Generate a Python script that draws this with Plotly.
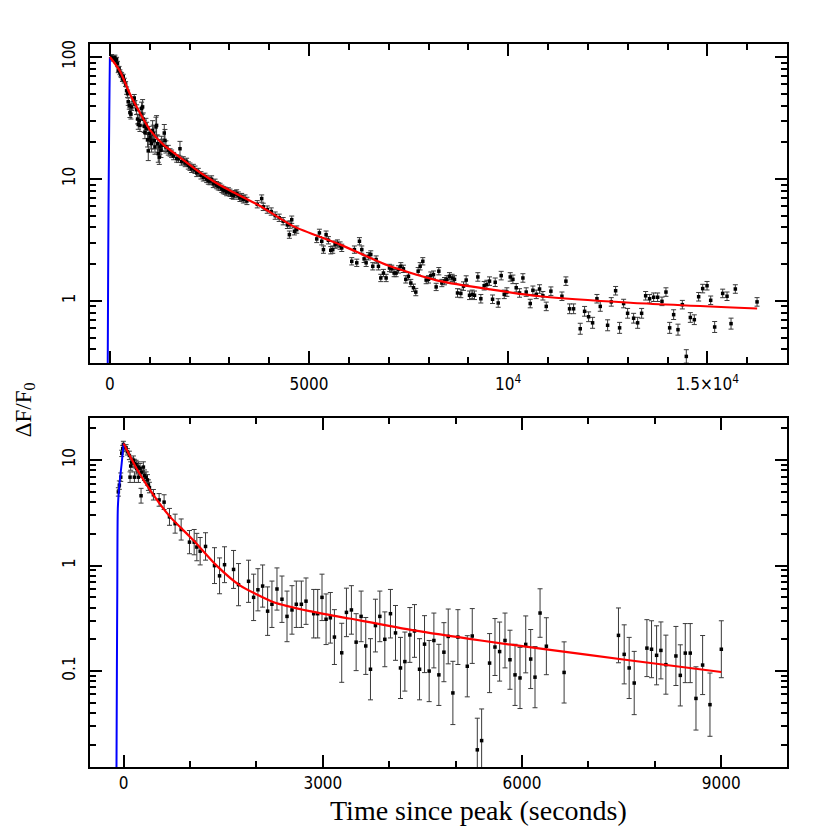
import numpy as np
import plotly.graph_objects as go

# ---- upper panel: observed light curve (time s, dF/F0, half-width of error in dex)
top_t = [42, 84, 126, 142, 167, 190, 209, 230, 251, 270, 293, 315, 335, 360, 394, 419, 444, 460, 486,
         502, 528, 544, 586, 611, 628, 670, 695, 712, 737, 754, 779, 796, 821, 837, 862, 879, 904,
         921, 946, 963, 988, 1005, 1030, 1047, 1072, 1089, 1114, 1131, 1156, 1172, 1198, 1214, 1240,
         1256, 1281, 1298, 1323, 1365, 1382, 1407, 1466, 1510, 1549, 1600, 1675, 1720, 1759, 1800,
         1842, 1890, 1926, 1968, 2010, 2052, 2095, 2136, 2180, 2220, 2286, 2345, 2387, 2429, 2471,
         2512, 2554, 2596, 2640, 2680, 2720, 2764, 2810, 2847, 2890, 2931, 2975, 3015, 3060, 3099,
         3140, 3182, 3224, 3265, 3308, 3350, 3392, 3440, 3700, 3811, 3850, 3950, 4050, 4150, 4250,
         4350, 4456, 4506, 4523, 4565, 4632, 4691,
         5193, 5260, 5319, 5361, 5428, 5486, 5545, 5595, 5654, 5712, 5779, 5821, 6072, 6139, 6198,
         6265, 6324, 6382, 6433, 6491, 6550, 6600, 6684, 6742, 6801, 6868, 6935, 7019, 7077, 7136,
         7186, 7245, 7304, 7370, 7429, 7496, 7555, 7622, 7680, 7739, 7789, 7856, 7940, 7999, 8057,
         8124, 8191, 8258, 8334, 8401, 8460, 8526, 8593, 8652, 8727, 8811, 8878, 8945, 9029, 9096,
         9154, 9238, 9313, 9397, 9464, 9531, 9607, 9674, 9749, 9824, 9900, 9967, 10051, 10118,
         10201, 10285, 10369, 10452,
         10553, 10620, 10704, 10787, 10871, 10955, 11072, 11349, 11449, 11541, 11642, 11809, 11918,
         12019, 12119, 12228, 12312, 12496, 12588, 12697, 12797, 12898, 12998, 13149, 13250, 13350,
         13451, 13551, 13652, 13752, 13861, 13961, 14054, 14154, 14263, 14372, 14472, 14573, 14673,
         14782, 14883, 14992, 15084, 15184, 15385, 15494, 15595, 15703, 16248]
top_f = [100, 97, 99, 94, 95, 88, 78, 80, 75, 72, 71, 66, 69, 64, 60, 53, 50, 43, 40,
         35, 34, 39, 44, 46, 41, 37, 31, 28, 30, 27.5, 34, 38, 39, 31, 27, 24, 28,
         26, 21, 17, 23.5, 22, 20.7, 19.5, 25, 23.5, 20.7, 18.3, 26.7, 27.5, 19.5, 16.1, 15.1,
         18.3, 17.2, 19.5, 18.9, 23.8, 20.7, 18.3, 17.2, 16.5, 16.1, 15.4, 14.7, 14.6, 17.7, 13.9,
         14.2, 13.5, 13.8, 12.9, 12.6, 12.1, 12.3, 11.9, 11.2, 11.4, 10.7, 10.3, 10.4, 10.0, 9.7,
         9.6, 9.9, 9.1, 9.3, 8.9, 8.7, 8.6, 8.3, 8.1, 8.0, 7.8, 7.9, 7.7, 7.4, 7.3,
         7.5, 7.6, 7.3, 7.0, 7.1, 6.8, 6.9, 6.6, 6.2, 6.9, 5.9, 5.6, 5.4, 5.0, 4.8,
         4.5, 4.2, 3.49, 4.22, 4.63, 3.72, 3.84,
         3.22, 3.61, 3.08, 2.63, 3.49, 3.14, 2.60, 2.63, 2.89, 2.95, 2.84, 2.72, 2.11, 2.63, 2.05,
         3.08, 2.63, 2.21, 2.05, 2.32, 2.40, 1.92, 2.18, 1.92, 1.54, 1.69, 1.54, 1.86, 1.83, 1.69,
         1.69, 1.81, 1.92, 1.83, 1.50, 1.59, 1.40, 1.28, 1.18, 1.75, 1.92, 2.11, 1.48, 1.50, 1.61,
         1.64, 1.30, 1.75, 1.40, 1.45, 1.50, 1.59, 1.54, 1.50, 1.16, 1.15, 1.32, 1.48, 1.11, 1.13,
         1.11, 1.57, 1.04, 1.33, 1.36, 1.45, 1.03, 1.42, 0.96, 1.61, 1.13, 1.18, 1.57, 1.50,
         1.28, 1.16, 1.54, 1.18,
         0.95, 1.22, 1.13, 1.25, 1.10, 0.90, 1.20, 1.09, 1.45, 0.86, 0.86, 0.59, 0.82,
         0.74, 0.66, 1.04, 0.90, 0.63, 0.98, 1.21, 0.60, 0.95, 0.79, 0.72, 0.66, 0.79,
         1.10, 1.04, 1.07, 1.07, 0.99, 1.18, 0.60, 0.77, 0.58, 0.93, 0.35, 0.73, 0.70,
         1.08, 1.26, 1.33, 1.01, 0.61, 1.15, 1.09, 0.65, 1.25, 0.98]
top_dex = [0.02, 0.02, 0.02, 0.02, 0.02, 0.02, 0.02, 0.02, 0.02, 0.02, 0.02, 0.02, 0.02, 0.02, 0.02, 0.03, 0.03, 0.03, 0.03,
           0.04, 0.04, 0.03, 0.03, 0.03, 0.03, 0.04, 0.04, 0.04, 0.04, 0.05, 0.05, 0.05, 0.06, 0.05, 0.05, 0.05, 0.05,
           0.05, 0.06, 0.08, 0.06, 0.06, 0.07, 0.07, 0.08, 0.07, 0.07, 0.06, 0.08, 0.08, 0.07, 0.07, 0.06,
           0.06, 0.06, 0.06, 0.05, 0.07, 0.09, 0.05, 0.04, 0.03, 0.03, 0.03, 0.03, 0.03, 0.06, 0.03,
           0.03, 0.03, 0.03, 0.03, 0.03, 0.03, 0.03, 0.03, 0.03, 0.03, 0.03, 0.03, 0.03, 0.03, 0.03,
           0.03, 0.03, 0.03, 0.03, 0.03, 0.03, 0.03, 0.03, 0.03, 0.03, 0.03, 0.03, 0.03, 0.03, 0.03,
           0.03, 0.03, 0.03, 0.03, 0.03, 0.03, 0.03, 0.03, 0.03, 0.03, 0.03, 0.03, 0.03, 0.03, 0.03,
           0.03, 0.03, 0.03, 0.03, 0.03, 0.03, 0.03,
           0.03, 0.03, 0.03, 0.03, 0.03, 0.03, 0.03, 0.03, 0.03, 0.03, 0.03, 0.03, 0.03, 0.03, 0.03,
           0.03, 0.03, 0.03, 0.03, 0.03, 0.03, 0.03, 0.03, 0.03, 0.03, 0.03, 0.03, 0.03, 0.03, 0.03,
           0.03, 0.03, 0.03, 0.03, 0.03, 0.03, 0.03, 0.03, 0.03, 0.03, 0.03, 0.03, 0.03, 0.03, 0.03,
           0.03, 0.03, 0.03, 0.03, 0.03, 0.03, 0.03, 0.03, 0.03, 0.035, 0.035, 0.035, 0.035, 0.035, 0.035,
           0.035, 0.035, 0.035, 0.035, 0.035, 0.035, 0.035, 0.035, 0.035, 0.035, 0.035, 0.035, 0.035, 0.035,
           0.035, 0.035, 0.035, 0.035,
           0.035, 0.035, 0.035, 0.035, 0.035, 0.035, 0.035, 0.035, 0.035, 0.04, 0.04, 0.045, 0.04,
           0.04, 0.045, 0.035, 0.04, 0.045, 0.035, 0.035, 0.045, 0.035, 0.04, 0.04, 0.045, 0.04,
           0.035, 0.035, 0.035, 0.035, 0.035, 0.035, 0.045, 0.04, 0.045, 0.035, 0.055, 0.04, 0.04,
           0.035, 0.035, 0.035, 0.035, 0.045, 0.035, 0.035, 0.045, 0.035, 0.035]

# upper panel model curves
top_rise_t = [-55, -45, -35, -22, -10, 0]
top_rise_f = [0.3, 1.5, 6, 20, 55, 100]
top_fit_t = [0, 250, 500, 750, 1000, 1340, 1760, 2260, 2640, 2930, 3770, 4600, 5780, 7035, 8290,
             9550, 10800, 13065, 16250]
top_fit_f = [100, 77, 50, 35, 25.4, 19.1, 15.0, 11.3, 9.4, 8.3, 6.0, 4.1, 2.89, 1.92, 1.45,
             1.24, 1.09, 0.964, 0.865]

# ---- lower panel
bot_t = [-80, -65, -44, -29, -14, -4, 36, 56, 86, 96, 106, 122, 147, 162, 162, 187, 197, 222, 222,
         247, 262, 272, 297, 313, 338, 358, 373, 388, 448, 534, 609, 690, 775, 866, 991, 1062,
         1102, 1152, 1233, 1368, 1444, 1519, 1655, 1730, 1881, 1957, 2022, 2093, 2168, 2233, 2309,
         2384, 2460, 2535, 2600, 2676, 2746, 2862, 2922, 2987, 3048, 3113, 3174, 3284, 3355, 3430,
         3501, 3576, 3646, 3717, 3792, 3858, 3933, 4018, 4094, 4169, 4235, 4310, 4380, 4456, 4531,
         4601, 4672, 4747, 4823, 4888, 4958, 5034, 5175, 5250, 5326, 5391, 5511, 5592, 5662, 5743,
         5818, 5894, 5969, 6055, 6130, 6195, 6271, 6366, 6633, 7452, 7538, 7613, 7689, 7880, 7950,
         8026, 8091, 8166, 8317, 8383, 8458, 8533, 8619, 8719, 8830, 9001]
bot_f = [5.0, 5.8, 6.9, 11.6, 12.9, 14.1, 13.1, 12.0, 11.1, 6.9, 8.8, 9.6, 10.0, 9.3, 6.9, 9.1, 8.3, 8.6, 6.9,
         8.3, 4.6, 7.7, 8.6, 7.2, 6.9, 6.5, 5.8, 5.5, 4.7, 4.2, 4.0, 2.9, 2.5, 2.2, 1.67, 1.67,
         1.50, 1.37, 1.52, 1.0, 0.80, 1.02, 0.92, 0.66, 0.71, 0.50, 0.59, 0.64, 0.37, 0.43, 0.60,
         0.48, 0.33, 0.38, 0.43, 0.43, 0.46, 0.35, 0.35, 0.50, 0.31, 0.32, 0.21, 0.149, 0.36, 0.38,
         0.188, 0.33, 0.173, 0.104, 0.27, 0.33, 0.20, 0.35, 0.23, 0.107, 0.123, 0.22, 0.24, 0.104, 0.18,
         0.100, 0.195, 0.092, 0.151, 0.213, 0.062, 0.21, 0.111, 0.215, 0.0179, 0.0219, 0.119, 0.169, 0.153, 0.195,
         0.128, 0.092, 0.086, 0.179, 0.130, 0.0875, 0.355, 0.172, 0.097, 0.218, 0.144, 0.107, 0.077, 0.165, 0.161,
         0.141, 0.157, 0.115, 0.139, 0.091, 0.148, 0.148, 0.055, 0.114, 0.048, 0.161]
bot_dex = [0.04, 0.04, 0.04, 0.03, 0.03, 0.03, 0.03, 0.03, 0.04, 0.05, 0.04, 0.04, 0.04, 0.04, 0.05, 0.04, 0.05, 0.05, 0.05,
           0.05, 0.07, 0.05, 0.05, 0.05, 0.05, 0.05, 0.05, 0.05, 0.05, 0.06, 0.07, 0.08, 0.09, 0.10, 0.11, 0.12,
           0.13, 0.13, 0.13, 0.17, 0.17, 0.17, 0.18, 0.20, 0.20, 0.22, 0.20, 0.20, 0.23, 0.22, 0.20,
           0.22, 0.24, 0.23, 0.22, 0.22, 0.22, 0.23, 0.23, 0.22, 0.24, 0.24, 0.26, 0.28, 0.23, 0.23,
           0.27, 0.24, 0.27, 0.29, 0.25, 0.24, 0.26, 0.23, 0.26, 0.29, 0.28, 0.26, 0.25, 0.29, 0.27,
           0.29, 0.26, 0.29, 0.28, 0.26, 0.30, 0.26, 0.29, 0.26, 0.30, 0.30, 0.28, 0.27, 0.28, 0.26,
           0.28, 0.29, 0.29, 0.27, 0.28, 0.29, 0.23, 0.27, 0.29, 0.26, 0.28, 0.29, 0.30, 0.27, 0.27,
           0.28, 0.27, 0.28, 0.28, 0.29, 0.28, 0.28, 0.30, 0.28, 0.30, 0.27]

bot_rise_t = [-108, -102, -96, -88, -65, -30, 0]
bot_rise_f = [0.012, 0.1, 0.6, 3.5, 5.8, 9.3, 14.4]
bot_fit_t = [0, 200, 450, 700, 1050, 1400, 1750, 2260, 2800, 3400, 4370, 5380, 6280, 7640, 9000]
bot_fit_f = [14.4, 8.2, 4.66, 2.9, 1.74, 1.0, 0.65, 0.45, 0.37, 0.315, 0.243, 0.195, 0.163, 0.126, 0.098]

TICK_FONT = {"family": "Liberation Sans Narrow, DejaVu Sans Condensed, Arial", "size": 17, "color": "black"}
SERIF = "Liberation Serif, Times New Roman, serif"


def err_bars(f, dex):
    f = np.asarray(f, float)
    d = np.asarray(dex, float)
    return dict(type="data", symmetric=False,
                array=f * (10 ** d - 1), arrayminus=f * (1 - 10 ** -d),
                color="#3a3a3a", thickness=1, width=2.5)


fig = go.Figure()

for t, f, dex, rt, rf, ft, ff, ax in [
    (top_t, top_f, top_dex, top_rise_t, top_rise_f, top_fit_t, top_fit_f, ""),
    (bot_t, bot_f, bot_dex, bot_rise_t, bot_rise_f, bot_fit_t, bot_fit_f, "2"),
]:
    xa, ya = "x" + ax, "y" + ax
    fig.add_trace(go.Scatter(
        x=t, y=f, mode="markers", xaxis=xa, yaxis=ya,
        marker={"symbol": "square", "size": 3.5, "color": "black"},
        error_y=err_bars(f, dex), cliponaxis=True,
    ))
    fig.add_trace(go.Scatter(
        x=rt, y=rf, mode="lines", xaxis=xa, yaxis=ya,
        line={"color": "#0000ff", "width": 2, "shape": "spline", "smoothing": 0.6},
    ))
    fig.add_trace(go.Scatter(
        x=ft, y=ff, mode="lines", xaxis=xa, yaxis=ya,
        line={"color": "#ff0000", "width": 2.2, "shape": "spline", "smoothing": 0.6},
    ))

common_x = dict(
    showline=True, linecolor="black", linewidth=2, mirror="ticks", automargin=False,
    ticks="inside", ticklen=12, tickwidth=1.5, tickcolor="black",
    showgrid=False, zeroline=False, tickfont=TICK_FONT,
    minor={"ticks": "inside", "ticklen": 6, "tickwidth": 1.5, "tickcolor": "black",
           "dtick": 1000, "showgrid": False},
)
common_y = dict(
    type="log", showline=True, linecolor="black", linewidth=2, mirror="ticks", automargin=False,
    ticks="inside", ticklen=12, tickwidth=1.5, tickcolor="black", ticklabelstandoff=6,
    showgrid=False, zeroline=False, tickfont=TICK_FONT, tickangle=-90,
    minor={"ticks": "inside", "ticklen": 6, "tickwidth": 1.5, "tickcolor": "black",
           "dtick": "D1", "showgrid": False},
)

# the page adds an 8 px body margin, so the margins are offset to compensate
fig.update_layout(
    width=830, height=830,
    paper_bgcolor="white", plot_bgcolor="white",
    margin={"l": 82, "r": 51, "t": 36, "b": 71},
    showlegend=False,
    xaxis=dict(common_x, domain=[0, 1], anchor="y", range=[-500, 17000], ticklabelstandoff=5,
               tickvals=[0, 5000, 10000, 15000],
               ticktext=["0", "5000", "10<sup>4</sup>", "1.5×10<sup>4</sup>"]),
    yaxis=dict(common_y, domain=[0.5588, 1], anchor="x", range=[-0.51, 2.107],
               tickvals=[1, 10, 100], ticktext=["1", "10", "100"]),
    xaxis2=dict(common_x, domain=[0, 1], anchor="y2", range=[-507, 9990], ticklabelstandoff=0,
                tickvals=[0, 3000, 6000, 9000], ticktext=["0", "3000", "6000", "9000"]),
    yaxis2=dict(common_y, domain=[0, 0.4827], anchor="x2", range=[-1.91, 1.40],
                tickvals=[0.1, 1, 10], ticktext=["0.1", "1", "10"]),
    annotations=[
        dict(text="ΔF/F<sub>0</sub>", xref="paper", yref="paper", x=-0.094, y=0.494,
             xanchor="center", yanchor="middle", textangle=-90, showarrow=False,
             font={"family": SERIF, "size": 23, "color": "black"}),
        dict(text="Time since peak (seconds)", xref="paper", yref="paper", x=0.558, y=-0.06,
             xanchor="center", yanchor="middle", showarrow=False,
             font={"family": SERIF, "size": 28, "color": "black"}),
    ],
)

fig.write_html("out.html")
